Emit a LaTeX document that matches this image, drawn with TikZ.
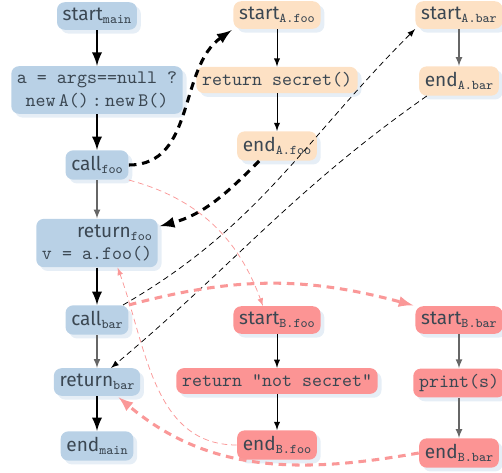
\documentclass[tikz,border=0pt]{standalone}
\usepackage{fontspec}
\setmainfont{Fira Sans}
\usetikzlibrary{shadows}
\definecolor{txtc}{HTML}{3B4752}
\definecolor{mainc}{HTML}{B9D1E6}
\definecolor{ac}{HTML}{FDE1C4}
\definecolor{bc}{HTML}{FC9494}
\definecolor{shc}{HTML}{E6EEF6}
\definecolor{linkc}{HTML}{FA9898}
\newcommand{\blk}[2]{#1\raisebox{-0.35ex}{\scriptsize\ttfamily #2}}

\begin{document}
\begin{tikzpicture}[x=0.525pt,y=-0.525pt,>=latex,
  box/.style={rounded corners=4pt,inner sep=3pt,minimum height=13.5pt,text=txtc,
    drop shadow={fill=shc,opacity=1,shadow xshift=2pt,shadow yshift=-2pt}},
  mainbox/.style={box,fill=mainc},
  abox/.style={box,fill=ac},
  bbox/.style={box,fill=bc},
  seq/.style={->,line width=1.4pt},
  inner/.style={->,line width=0.5pt},
  innergray/.style={->,line width=0.6pt,color=black!60},
  calldash/.style={->,line width=1.6pt,dash pattern=on 4pt off 3pt,shorten >=1pt},
  calllink/.style={->,line width=1.6pt,color=linkc,dash pattern=on 4pt off 3pt,shorten >=1pt},
  maydash/.style={->,line width=0.4pt,dash pattern=on 3pt off 2pt},
  maylink/.style={->,line width=0.4pt,color=linkc,dash pattern=on 3pt off 2pt}]
  \useasboundingbox (0,0) rectangle (502,472);

  % main
  \node[mainbox] (mainstart) at (97,16) {\blk{start}{main}};
  \node[mainbox,align=center,font=\ttfamily] (assign) at (97,90) {a = args==null ?\\new\,A()\,:\,new\,B()};
  \node[mainbox] (callfoo) at (97,165) {\blk{call}{foo}};
  \node[mainbox,align=right] (retfoo) at (97,243) {\blk{return}{foo}\\\texttt{v = a.foo()}};
  \node[mainbox] (callbar) at (97,320) {\blk{call}{bar}};
  \node[mainbox] (retbar) at (97,382) {\blk{return}{bar}};
  \node[mainbox] (mainend) at (97,446) {\blk{end}{main}};

  % A.foo, A.bar
  \node[abox] (afoostart) at (277,15) {\blk{start}{A.foo}};
  \node[abox,font=\ttfamily] (afooret) at (277,80) {return secret()};
  \node[abox] (afooend) at (277,146) {\blk{end}{A.foo}};
  \node[abox] (abarstart) at (459,15) {\blk{start}{A.bar}};
  \node[abox] (abarend) at (459,81) {\blk{end}{A.bar}};

  % B.foo, B.bar
  \node[bbox] (bfoostart) at (277,320) {\blk{start}{B.foo}};
  \node[bbox,font=\ttfamily] (bfooret) at (277,381) {return "not secret"};
  \node[bbox] (bfooend) at (277,445) {\blk{end}{B.foo}};
  \node[bbox] (bbarstart) at (459,320) {\blk{start}{B.bar}};
  \node[bbox,font=\ttfamily] (bbarprint) at (459,383) {print(s)};
  \node[bbox] (bbarend) at (459,453) {\blk{end}{B.bar}};

  \draw[seq] (mainstart) -- (assign);
  \draw[seq] (assign) -- (callfoo);
  \draw[innergray] (callfoo) -- (retfoo);
  \draw[seq] (retfoo) -- (callbar);
  \draw[innergray] (callbar) -- (retbar);
  \draw[seq] (retbar) -- (mainend);

  \draw[inner] (afoostart) -- (afooret); \draw[inner] (afooret) -- (afooend);
  \draw[innergray] (abarstart) -- (abarend);
  \draw[inner] (bfoostart) -- (bfooret); \draw[inner] (bfooret) -- (bfooend);
  \draw[innergray] (bbarstart) -- (bbarprint); \draw[innergray] (bbarprint) -- (bbarend);

  % calls and returns
  \draw[calldash] (callfoo.east) to[out=0,in=215] (afoostart.south west);
  \draw[calldash] (afooend.220) to[out=225,in=15] (retfoo.15);
  \draw[maydash] (callbar.30) to[out=30,in=225] (abarstart.south west);
  \draw[maydash] (abarend.205) to[out=215,in=40] (retbar.45);
  \draw[maylink] (callfoo.south east) to[out=-15,in=110] (bfoostart.135);
  \draw[maylink] (bfooend.west) to[out=180,in=-70] (retfoo.-50);
  \draw[calllink] (callbar.north east) to[out=15,in=165] (bbarstart.north west);
  \draw[calllink] (bbarend.west) to[out=190,in=-40] (retbar.-35);
\end{tikzpicture}
\end{document}
